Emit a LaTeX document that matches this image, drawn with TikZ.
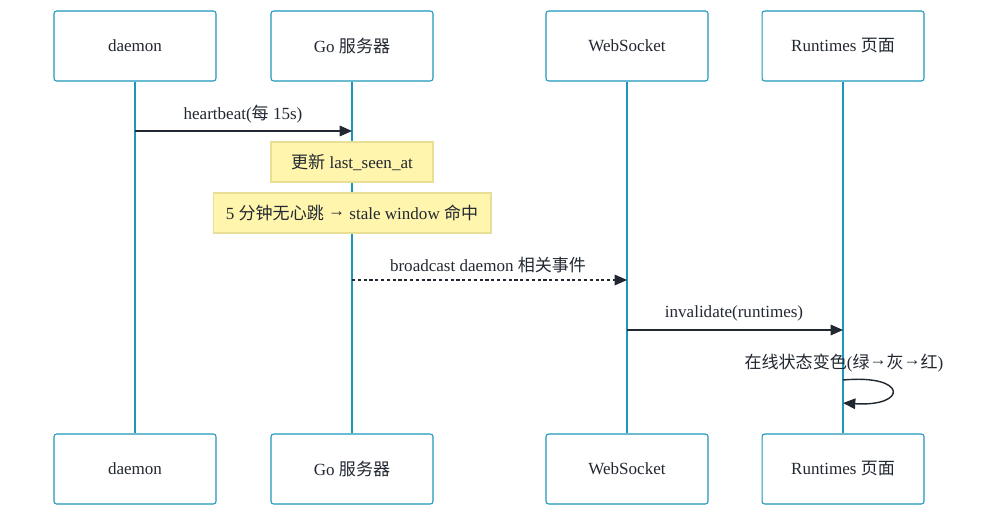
\documentclass[tikz,border=0pt]{standalone}
\usepackage{fontspec}
\setmainfont{Liberation Serif}
\newfontfamily\cjk{Noto Sans CJK SC}
\newcommand{\zhtext}[1]{{\cjk #1}}
\newcommand{\thinarrow}{\raisebox{0.35ex}{→}}
\usepackage{tikz}
\usetikzlibrary{arrows.meta,calc}
\definecolor{lane}{RGB}{28,150,186}
\definecolor{notefill}{RGB}{255,245,173}
\definecolor{notedraw}{RGB}{232,222,150}
\definecolor{ink}{RGB}{34,40,49}
\tikzset{
  actor/.style={draw=lane, line width=0.6pt, rounded corners=1.5pt, fill=white,
    minimum width=3.24cm, minimum height=1.4cm, text=ink},
  note/.style={draw=notedraw, line width=0.6pt, fill=notefill, minimum height=0.8cm, text=ink},
  msg/.style={draw=ink, line width=0.8pt, -{Triangle[length=7pt,width=6pt]}},
  lifeline/.style={draw=lane, line width=1.2pt},
  every node/.style={font=\fontsize{9.7}{11}\selectfont, text=ink}
}

\begin{document}
\begin{tikzpicture}[x=0.02cm,y=-0.02cm]
\useasboundingbox (0,0) rectangle (1000,517);

\node[actor] (daemonTop) at (135,46) {daemon};
\node[actor] (goTop) at (352,46) {Go \zhtext{服务器}};
\node[actor] (wsTop) at (627,46) {WebSocket};
\node[actor] (rtTop) at (843,46) {Runtimes \zhtext{页面}};

\node[actor] (daemonBot) at (135,469) {daemon};
\node[actor] (goBot) at (352,469) {Go \zhtext{服务器}};
\node[actor] (wsBot) at (627,469) {WebSocket};
\node[actor] (rtBot) at (843,469) {Runtimes \zhtext{页面}};

\draw[lifeline] (daemonTop) -- (daemonBot);
\draw[lifeline] (goTop) -- (goBot);
\draw[lifeline] (wsTop) -- (wsBot);
\draw[lifeline] (rtTop) -- (rtBot);

% heartbeat
\coordinate (hbFrom) at (daemonTop.south |- 0,131);
\coordinate (hbTo) at (goTop.south |- 0,131);
\draw[msg] (hbFrom) -- (hbTo);
\node (hbLabel) at (243,114) {heartbeat(\zhtext{每} 15s)};

\node[note, minimum width=3.24cm] (updNote) at (352,162) {\zhtext{更新} last\_seen\_at};
\node[note, minimum width=5.56cm] (staleNote) at (352,213) {5 \zhtext{分钟无心跳} \thinarrow{} stale window \zhtext{命中}};

% broadcast
\coordinate (bcFrom) at (goTop.south |- 0,280);
\coordinate (bcTo) at (wsTop.south |- 0,280);
\draw[msg, dash pattern=on 1.8pt off 1.5pt] (bcFrom) -- (bcTo);
\node (bcLabel) at (488,265) {broadcast daemon \zhtext{相关事件}};

% invalidate
\coordinate (invFrom) at (wsTop.south |- 0,330);
\coordinate (invTo) at (rtTop.south |- 0,330);
\draw[msg] (invFrom) -- (invTo);
\node (invLabel) at (734,313) {invalidate(runtimes)};

% self loop
\coordinate (loopFrom) at (rtTop.south |- 0,380);
\coordinate (loopTo) at (rtTop.south |- 0,403);
\draw[msg] (loopFrom) .. controls (908,374) and (908,407) .. (loopTo);
\node (loopLabel) at (844,363) {\zhtext{在线状态变色}(\zhtext{绿}\thinarrow\zhtext{灰}\thinarrow\zhtext{红})};
\end{tikzpicture}
\end{document}
